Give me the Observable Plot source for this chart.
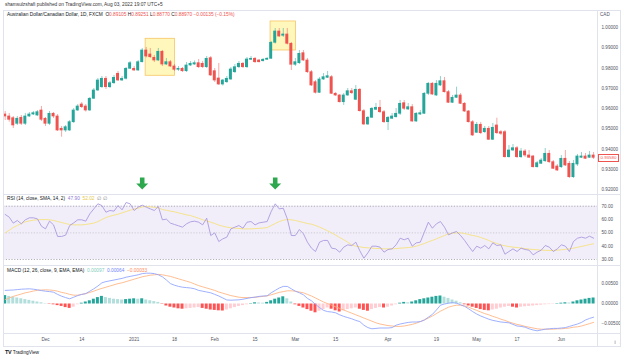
<!DOCTYPE html>
<html><head><meta charset="utf-8">
<script src="https://cdn.jsdelivr.net/npm/d3@7"></script>
<script src="https://cdn.jsdelivr.net/npm/@observablehq/plot@0.6"></script>
<style>
body{margin:0;background:#fff;font-family:"Liberation Sans",Arial,sans-serif;}
#root{position:relative;width:624px;height:360px;overflow:hidden;background:#fff;}
.p{position:absolute;left:0;}
.t{position:absolute;white-space:nowrap;font-size:4.8px;color:#131722;line-height:1;}
.ln{position:absolute;background:#e0e3eb;}
</style></head><body><div id="root"></div>
<script>
// ---------- data ----------
const holidays = ["2020-12-25","2021-01-01"];
const startDate = "2020-11-17";
const open = [
0.95714,0.95616,0.95532,0.95256,0.95552,0.95256,0.95616,0.95714,0.95665,0.95911,
0.95503,0.95256,0.95749,0.95616,0.95010,0.94926,0.94926,0.95335,0.95911,0.96207,
0.96108,0.95911,0.96488,0.96897,0.97059,0.97473,0.97059,0.97256,0.97719,0.97389,
0.97473,0.97965,0.97965,0.97882,0.98291,0.98867,0.98670,0.98507,0.98374,0.98803,
0.98177,0.98291,0.98079,0.97916,0.97965,0.97847,0.98128,0.98177,0.98241,0.98212,
0.98044,0.98488,0.97847,0.97488,0.97192,0.97305,0.97438,0.97798,0.98044,0.98212,
0.98044,0.98409,0.98458,0.98374,0.98340,0.98409,0.98458,0.99246,0.99803,0.99591,
0.99655,0.99197,0.98163,0.98241,0.98734,0.98374,0.97798,0.97305,0.96783,0.97438,
0.97522,0.97552,0.96734,0.96650,0.96320,0.96650,0.96862,0.96438,0.96931,0.95877,
0.95222,0.95552,0.95946,0.96044,0.95828,0.95335,0.95503,0.95581,0.95749,0.96271,
0.95961,0.96074,0.95370,0.95714,0.95749,0.96734,0.97227,0.96650,0.97143,0.97355,
0.96813,0.96291,0.96537,0.96650,0.96241,0.95862,0.95335,0.94813,0.95207,0.94843,
0.95010,0.94468,0.95173,0.94843,0.94843,0.93611,0.93941,0.94054,0.93611,0.93892,
0.93695,0.93646,0.93118,0.93286,0.93414,0.93778,0.93364,0.93153,0.93118,0.93532,
0.93286,0.92626,0.93251,0.93582,0.93646,0.93582,0.93695];
const high = [
0.95862,0.95764,0.95616,0.95616,0.95665,0.95764,0.95813,0.95862,0.95911,0.96108,
0.95567,0.95862,0.95813,0.95714,0.95124,0.95173,0.95419,0.96010,0.96207,0.96305,
0.96207,0.96552,0.96995,0.97488,0.97586,0.97586,0.97340,0.97636,0.97833,0.97586,
0.98030,0.98325,0.98079,0.98374,0.98966,0.99015,0.98966,0.98621,0.98966,0.98867,
0.98473,0.98374,0.98177,0.98079,0.98030,0.98276,0.98325,0.98350,0.98424,0.98325,
0.98571,0.98571,0.97980,0.98227,0.97439,0.97586,0.98030,0.98177,0.98325,0.98276,
0.98522,0.98571,0.98522,0.98424,0.98473,0.98522,0.99310,0.99951,0.99951,0.99951,
0.99951,0.99261,0.98473,0.98867,0.98867,0.98473,0.97882,0.97389,0.97537,0.97734,
0.97833,0.97636,0.96798,0.96700,0.96749,0.96995,0.96995,0.97143,0.96995,0.95961,
0.95616,0.96059,0.96256,0.96404,0.95911,0.95616,0.95764,0.96010,0.96404,0.96404,
0.96256,0.96207,0.95813,0.95911,0.96798,0.97291,0.97291,0.97389,0.97586,0.97537,
0.96897,0.96650,0.97059,0.96749,0.96305,0.95911,0.95419,0.95320,0.95320,0.95124,
0.95124,0.95271,0.95532,0.94926,0.94926,0.94187,0.94236,0.94138,0.94040,0.93990,
0.93941,0.93695,0.93399,0.93547,0.94040,0.93941,0.93448,0.93251,0.93695,0.93941,
0.93399,0.93448,0.93744,0.93842,0.93793,0.93892,0.93842];
const low = [
0.95419,0.95335,0.95025,0.95173,0.95173,0.95173,0.95567,0.95665,0.95616,0.95370,
0.95124,0.95173,0.95518,0.94877,0.94596,0.94828,0.94877,0.95271,0.95862,0.96010,
0.95837,0.95862,0.96453,0.96847,0.96995,0.96946,0.96995,0.97192,0.97340,0.97340,
0.97414,0.97931,0.97833,0.97833,0.98251,0.98498,0.98473,0.98276,0.98325,0.98079,
0.98128,0.98030,0.97833,0.97833,0.97783,0.97783,0.98079,0.98128,0.97980,0.97980,
0.97980,0.97586,0.97291,0.97143,0.97118,0.97241,0.97389,0.97734,0.97980,0.97980,
0.97980,0.98374,0.98227,0.98251,0.98300,0.98374,0.98424,0.99187,0.99507,0.99507,
0.99138,0.97882,0.98079,0.98177,0.98325,0.97734,0.97094,0.96724,0.96749,0.97389,
0.97488,0.96700,0.96601,0.96281,0.96158,0.96601,0.96700,0.96404,0.95837,0.95173,
0.95173,0.95518,0.95911,0.95764,0.95271,0.94926,0.95468,0.95542,0.95665,0.95911,
0.95911,0.95320,0.95320,0.95665,0.95714,0.96650,0.96650,0.96601,0.97094,0.96773,
0.96256,0.96256,0.96503,0.96207,0.95813,0.95296,0.94631,0.94778,0.94729,0.94778,
0.94433,0.94433,0.94729,0.94680,0.93572,0.93572,0.93892,0.93547,0.93547,0.93596,
0.93547,0.93079,0.93079,0.93251,0.93350,0.93301,0.93005,0.92906,0.93054,0.93153,
0.92562,0.92562,0.93153,0.93547,0.93498,0.93547,0.93498];
const close = [
0.95616,0.95453,0.95173,0.95503,0.95256,0.95616,0.95714,0.95778,0.95828,0.95453,
0.95256,0.95749,0.95616,0.94926,0.94926,0.95089,0.95335,0.95911,0.96108,0.96074,
0.95911,0.96488,0.96897,0.97389,0.97473,0.97059,0.97256,0.97522,0.97389,0.97473,
0.97965,0.98241,0.97882,0.98291,0.98867,0.98571,0.98537,0.98374,0.98803,0.98177,
0.98291,0.98079,0.97916,0.97965,0.97847,0.98128,0.98212,0.98241,0.98044,0.98044,
0.98458,0.97636,0.97389,0.97192,0.97389,0.97473,0.97931,0.98044,0.98212,0.98044,
0.98424,0.98458,0.98291,0.98291,0.98409,0.98458,0.99246,0.99803,0.99557,0.99655,
0.99197,0.98163,0.98291,0.98704,0.98374,0.97798,0.97143,0.96783,0.97438,0.97552,
0.97601,0.96734,0.96650,0.96320,0.96650,0.96862,0.96764,0.96931,0.95877,0.95222,
0.95552,0.95995,0.96044,0.95828,0.95335,0.95552,0.95616,0.95749,0.96241,0.95995,
0.96074,0.95370,0.95749,0.95778,0.96734,0.97227,0.96700,0.97227,0.97355,0.96813,
0.96291,0.96537,0.96650,0.96241,0.95862,0.95335,0.94680,0.95207,0.94793,0.95010,
0.94468,0.95059,0.94793,0.94764,0.93611,0.93941,0.94054,0.93611,0.93892,0.93695,
0.93582,0.93118,0.93315,0.93448,0.93778,0.93364,0.93039,0.92956,0.93532,0.93202,
0.92626,0.93286,0.93646,0.93646,0.93532,0.93695,0.93580];

const rsi = [63.8,61.8,57.3,59.3,56.8,59.8,61.3,61.3,60.5,55,53,58.8,56,47.3,47.3,48.3,55.5,57.5,59.8,59.8,
58.8,64.3,68,71.8,70.5,65.5,66.8,66.3,70.5,67.3,72.8,71.8,66.8,69.3,70.8,69.3,68,66.8,69.8,59.8,
60.3,57.3,56.3,55.3,54.3,56.8,58.3,58.8,58,56,61,48,50,43.5,45.5,46.8,53,54.3,55.5,53.5,
58,58.5,56,57.5,58,58.5,66,71.8,68,68.5,60.5,48,48,52.5,49.3,43,38.5,36,43,44.3,
44.3,38.5,38,35.5,39.3,41,40.5,43,36.5,31,35,40,40,39.3,35.5,37.5,38,41,46,44.8,
46,40,42.5,43,50.5,58,53.5,56.8,58.5,54.3,48.5,50,51,48,44.3,40,36,40,38.5,40.5,
38,42.5,40.5,41,34,36,38,36,38.5,37.5,37,33.5,35.5,37,40.5,39.3,36,38,41,40,
36,43.5,46,46.8,46,47.5,46];
const rsiMa = [50,52,54,55.5,57,58.3,59,59.5,59.8,60,60,59.8,59.3,58.5,57.8,57,56.3,56,56,56,
56.3,56.8,57.3,58.5,60,61.5,62.5,63.3,64,65,66,67,67.8,68.5,69.5,69.8,69.5,69.2,68.8,67.5,
67,66.3,65.8,65,64.3,63.5,63,62,61,59.8,59,58,57,55.8,55,54.3,53.8,53.5,53.3,53,
53,53,53.2,53.4,53.6,54,55.5,57,58.5,59.5,60,59.8,59.3,58.5,57.8,57,56.5,55.5,54.3,53,
51.5,50,48.3,46.5,44.8,43,41,40,39.5,39,38.8,38.5,38.3,38.2,38,38,38,38.2,38.5,38.7,
39,39.3,40,41,42,43.3,44.3,45.5,46.8,48,49.3,49.8,50,50,49.5,48.8,48,47.5,46.5,45.5,
44.3,43,42,41,40.3,39.7,39.3,39,38.6,38.2,37.8,37.5,37.3,37,36.9,36.8,36.8,37,37.3,37.6,
38,38.5,39.2,39.8,40.5,41.2,41.8];
// MACD values in units of 0.0001
const macdLine = [34,34.5,35,36,37,37.5,38,37,35.5,33.5,32,31,29.5,24,19.5,16,13,17,21,24,
26,32,38,45,53,56,58,60,62,64,67,69,71,73,76,77,77,76,73,68,
60,51,47,44,42,41,40,38,34,32,30,28,24,20,15,10,9.5,10,10.4,12,
14,16,17,19,20,20.4,28,34,40,44,44,38,32,28,23,14,8,-1,-9,-16,
-19,-20,-22,-27,-31,-34,-37,-41,-44,-53,-59,-62,-61,-60,-60,-60,-59,-53,-50,-48,
-46,-45,-45,-44,-40,-33,-26,-15,-3,0,2,3.5,2,-2,-6,-12,-19,-25,-30,-34,
-38,-41,-43,-45,-46,-47,-51,-55,-56,-58,-62,-65,-67,-65,-63,-62,-61,-61,-60,-59,
-56,-53,-50,-46,-40,-36,-33];
const signalLine = [11,15,19,22,25,28,30,32.5,34,35,35.5,35,34,32,29,27,24,22,22,24,
26,29,32,36,39,42,45,48,51,53,56,59,62,65,68,70,72,73,74,73,
71,69,66,63,60,57,54,50,46,43,40,37,34,30,27,24,21,19,17,16,
16,16,17,18,19,20.5,23,26,29,31,33,33,32,30,28,24,20,15,10,5,
1,-3,-7,-11,-15,-19,-23,-27,-31,-35,-39,-43,-47,-50,-52,-54,-55,-56,-56,-55,
-53,-51,-48,-44,-40,-35,-30,-24,-18,-13,-8,-5,-3,-3,-5,-8,-12,-16,-20,-24,
-27,-31,-34,-38,-41,-45,-48,-51,-53,-56,-58,-60,-62,-63,-63,-63,-63,-62,-62,-61,
-60,-58,-57,-55,-52,-49,-46];
const histogram = [21,19,17,15,13,11,9,7,5,3,1,-1,-2,-4,-6,-9,-11,-8,-2,2,
5,8,12,16,19,16,14,12,11,10,11,12,13,12,13,10,8,6,4,-1,
-5,-8,-10,-12,-13,-12,-11,-10,-9,-11,-13,-15,-16,-17,-17.5,-15,-12,-9,-6,-4,
-2,1,3,2.5,2,4,8,12,15,18,13,5,-2,-6,-10,-14,-18,-22,-18,-14,
-10,-13,-17,-20,-17,-14,-12,-10,-13,-16,-18,-14,-11,-9,-10,-8,-5,-2,2,4,
3,5,8,11,13,15,17,19,20,17,14,10,7,3,-2,-5,-8,-11,-14,-16,
-17,-15,-13,-10,-8,-6,-8,-10,-8,-7,-6,-5,-4,-3,-2,-1.5,-1,1,2,3,
2.5,5,8,10,12,14,15];

const priceTicks = [0.92,0.93,0.94,0.95,0.96,0.97,0.98,0.99,1.00];
const rsiTicks = [30,40,50,60,70];
const macdTicks = [-0.005,0,0.005];
const tickDates = ["2020-12-01","2020-12-14","2021-01-04","2021-01-18","2021-02-01","2021-02-15","2021-03-01","2021-03-15","2021-04-01","2021-04-19","2021-05-03","2021-05-17","2021-06-01"];
const tickLabels = ["Dec","14","2021","18","Feb","15","Mar","15","Apr","19","May","17","Jun"];
const boxFrom = ["2021-01-07","2021-02-19"];
const boxTo = ["2021-01-18","2021-03-01"];
const boxLo = [0.97621,0.98867];
const boxHi = [0.99443,1.00296];
const arrowDates = ["2021-01-06","2021-02-22"];
const arrowPrice = [0.9232,0.9232];

// ---------- build ----------
const UP="#26a69a", DOWN="#ef5350";
const dates=[];
{ let d=new Date(startDate+"T00:00:00Z");
  while(dates.length<open.length){const wd=d.getUTCDay();const iso=d.toISOString().slice(0,10);
    if(wd!==0&&wd!==6&&!holidays.includes(iso))dates.push(iso);d.setUTCDate(d.getUTCDate()+1);} }
const ix = s => dates.indexOf(s);
const bars = open.map((o,i)=>({i,o,h:high[i],l:low[i],c:close[i],up:close[i]>=o,
  rsi:rsi[i],ma:rsiMa[i],macd:macdLine[i]*1e-4,sig:signalLine[i]*1e-4,hist:histogram[i]*1e-4,
  hprev:i>0?histogram[i-1]:histogram[i]}));
const histColor = d => d.hist>=0 ? (d.hist*1e4>=d.hprev?"#26a69a":"#b2dfdb") : (d.hist*1e4<=d.hprev?"#ff5252":"#ffcdd2");
const boxes = boxFrom.map((f,k)=>({from:f,to:boxTo[k],lo:boxLo[k],hi:boxHi[k]}));
const arrows = arrowDates.map((a,k)=>({i:ix(a),p:arrowPrice[k]}));
const xDomain=[-0.42,146.97];
const W=624, ML=3, MR=27;
const FS=4.6, AX="#50535e";
const arrowSymbol={draw(ctx,size){const r=Math.sqrt(size/Math.PI);
  ctx.moveTo(-0.38*r,-r);ctx.lineTo(0.38*r,-r);ctx.lineTo(0.38*r,0);ctx.lineTo(r,0);
  ctx.lineTo(0,r);ctx.lineTo(-r,0);ctx.lineTo(-0.38*r,0);ctx.closePath();}};

const root=document.getElementById("root");
function place(el,top){el.classList.add("p");el.style.top=top+"px";root.appendChild(el);return el;}

const main = Plot.plot({width:W,height:184,marginLeft:ML,marginRight:MR,marginTop:0,marginBottom:0,
  x:{type:"linear",domain:xDomain,axis:null},
  y:{domain:[0.91773,1.00837],axis:null},
  color:{type:"identity"},
  style:{background:"transparent",fontFamily:"Liberation Sans, Arial, sans-serif"},
  marks:[
    Plot.rect(boxes,{x1:d=>ix(d.from)-0.15,x2:d=>ix(d.to)+0.15,y1:"lo",y2:"hi",fill:"#fff6b0",fillOpacity:0.85,stroke:"#f6c565",strokeWidth:0.8}),
    Plot.ruleX(bars,{x:"i",y1:"l",y2:"h",stroke:d=>d.up?UP:DOWN,strokeWidth:1,strokeOpacity:0.5}),
    Plot.rect(bars,{x1:d=>d.i-0.37,x2:d=>d.i+0.37,y1:d=>Math.min(d.o,d.c),y2:d=>Math.max(d.o,d.c),fill:d=>d.up?UP:DOWN,insetTop:-0.35,insetBottom:-0.35}),
    Plot.dot(arrows,{x:"i",y:"p",r:6,symbol:arrowSymbol,fill:"#2ea84f",stroke:null}),
    Plot.axisY(priceTicks,{anchor:"right",tickSize:0,tickPadding:4,tickFormat:d=>d.toFixed(5),fontSize:FS,fill:AX})
  ]});
place(main,10);

const rsiPlot = Plot.plot({width:W,height:71,marginLeft:ML,marginRight:MR,marginTop:0,marginBottom:0,
  x:{type:"linear",domain:xDomain,axis:null},
  y:{domain:[25.5,78.8],axis:null},
  style:{background:"transparent",fontFamily:"Liberation Sans, Arial, sans-serif"},
  marks:[
    Plot.rect([{lo:30,hi:70}],{x1:xDomain[0],x2:xDomain[1],y1:"lo",y2:"hi",fill:"#f1edf9"}),
    Plot.ruleY([70,30],{stroke:"#9a9ca6",strokeWidth:0.8,strokeDasharray:"1.2,1.6"}),
    Plot.ruleY([50],{stroke:"#c3c5cc",strokeWidth:0.8,strokeDasharray:"1.2,1.6"}),
    Plot.line(bars,{x:"i",y:"ma",stroke:"#f6e27f",strokeWidth:0.9}),
    Plot.line(bars,{x:"i",y:"rsi",stroke:"#a896de",strokeWidth:0.85}),
    Plot.axisY(rsiTicks,{anchor:"right",tickSize:0,tickPadding:4,tickFormat:d=>d.toFixed(2),fontSize:FS,fill:AX})
  ]});
place(rsiPlot,194);

const labelAt = new Map(tickDates.map((d,k)=>[ix(d),tickLabels[k]]));
const macdPlot = Plot.plot({width:W,height:81,marginLeft:ML,marginRight:MR,marginTop:0,marginBottom:13,
  x:{type:"linear",domain:xDomain,axis:null},
  y:{domain:[-0.007375,0.009625],axis:null},
  color:{type:"identity"},
  style:{background:"transparent",fontFamily:"Liberation Sans, Arial, sans-serif"},
  marks:[
    Plot.rect(bars,{x1:d=>d.i-0.37,x2:d=>d.i+0.37,y1:0,y2:"hist",fill:histColor}),
    Plot.line(bars,{x:"i",y:"sig",stroke:"#ffb27e",strokeWidth:0.85}),
    Plot.line(bars,{x:"i",y:"macd",stroke:"#8ea2ff",strokeWidth:0.85}),
    Plot.axisY(macdTicks,{anchor:"right",tickSize:0,tickPadding:4,tickFormat:d=>(d<0?"\u2212":"")+Math.abs(d).toFixed(5),fontSize:FS,fill:AX}),
    Plot.axisX([...labelAt.keys()],{anchor:"bottom",tickSize:0,tickPadding:4,tickFormat:d=>labelAt.get(d),fontSize:FS,fill:AX})
  ]});
place(macdPlot,265);

// frame lines
function line(l,t,w,h){const e=document.createElement("div");e.className="ln";Object.assign(e.style,{left:l+"px",top:t+"px",width:w+"px",height:h+"px"});root.appendChild(e);}
line(3,10,618,1);line(3,346,618,1);line(3,10,1,337);line(620,10,1,337);
line(597,10,1,337);line(3,194,618,1);line(3,265,618,1);line(3,333,618,1);

// texts
function txt(html,l,t,extra){const e=document.createElement("div");e.className="t";e.innerHTML=html;e.style.left=l+"px";e.style.top=t+"px";if(extra)Object.assign(e.style,extra);root.appendChild(e);return e;}
txt("shamsulzshafi published on TradingView.com, Aug 03, 2022 19:07 UTC+5",5,3,{color:"#333"});
const R='<span style="color:#ef5350">';
txt("Australian Dollar/Canadian Dollar, 1D, FXCM&nbsp; O"+R+"0.89105</span>&nbsp;H"+R+"0.89251</span>&nbsp;L"+R+"0.88770</span>&nbsp;C"+R+"0.88970</span>&nbsp;"+R+"\u22120.00135 (\u22120.15%)</span>",7,13);
txt("CAD",600,13,{color:AX,fontSize:"4.6px"});
txt('RSI (14, close, SMA, 14, 2)&nbsp; <span style="color:#8e79d4">47.90</span>&nbsp; <span style="color:#e5c94a">52.02</span>&nbsp; <span style="color:#888">\u2205 \u2205</span>',7,197);
txt('MACD (12, 26, close, 9, EMA, EMA)&nbsp; <span style="color:#7fcdbd">0.00097</span>&nbsp; <span style="color:#6f86ff">0.00064</span>&nbsp; <span style="color:#ff8a5c">\u22120.00033</span>',7,269);
txt('<b style="font-size:5.5px;letter-spacing:-0.3px">TV</b> TradingView',5,350,{color:"#131722"});

// last price tag
const yLast = main.scale("y").apply(close[close.length-1]) + 10;
txt(close[close.length-1].toFixed(5),598,yLast-3.5,{color:"#ef5350",border:"0.6px solid #ef5350",background:"#fff",padding:"1px 1.5px",fontSize:"4.4px"});
</script></body></html>
